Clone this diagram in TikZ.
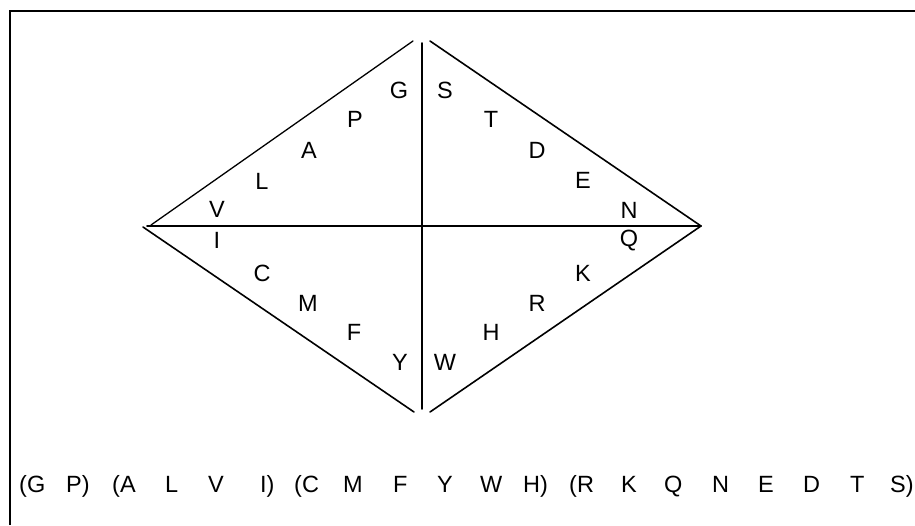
\documentclass[tikz,border=0pt]{standalone}
\usepackage{fontspec}
\setmainfont{Liberation Sans}
\begin{document}
\begin{tikzpicture}[x=1pt,y=-1pt,
  seg/.style={line width=1.6pt,line cap=round},
  lbl/.style={inner sep=0pt,font=\fontsize{23.5}{26}\selectfont},
  seq/.style={inner sep=0pt,anchor=base west,font=\fontsize{23.5}{26}\selectfont}]
\useasboundingbox (0,0) rectangle (915,525);
% frame
\draw[line width=2pt] (10,525) -- (10,11) -- (915,11);
% vertices
\coordinate (lt) at (151,225);
\coordinate (lb) at (143,227);
\coordinate (lh) at (147,226);
\coordinate (tl) at (413,41);
\coordinate (tr) at (430,41);
\coordinate (vt) at (422,43);
\coordinate (vb) at (422,409);
\coordinate (bl) at (414,412);
\coordinate (br) at (430,412);
\coordinate (rv) at (701,226);
\draw[seg,line width=1.3pt] (lt) -- (tl);
\draw[seg] (tr) -- (rv);
\draw[seg] (lh) -- (rv);
\draw[seg] (vt) -- (vb);
\draw[seg] (lb) -- (bl);
\draw[seg] (br) -- (rv);
% letters
\node[lbl] (G) at (399,90) {G};
\node[lbl] (S) at (445,90) {S};
\node[lbl] (P) at (355,119) {P};
\node[lbl] (A) at (309,150) {A};
\node[lbl] (L) at (262,181) {L};
\node[lbl] (V) at (217,209) {V};
\node[lbl] (I) at (217,240) {I};
\node[lbl] (T) at (491,119) {T};
\node[lbl] (D) at (537,150) {D};
\node[lbl] (E) at (583,180) {E};
\node[lbl] (N) at (629,210) {N};
\node[lbl] (Q) at (629,241) {Q};
\node[lbl] (C) at (262,273) {C};
\node[lbl] (M) at (308,303) {M};
\node[lbl] (F) at (354,332) {F};
\node[lbl] (Y) at (400,362) {Y};
\node[lbl] (W) at (445,362) {W};
\node[lbl] (H) at (491,332) {H};
\node[lbl] (R) at (537,303) {R};
\node[lbl] (K) at (583,273) {K};
% sequence
\node[seq] (s1) at (19,492) {(G};
\node[seq] (s2) at (66,492) {P)};
\node[seq] (s3) at (112,492) {(A};
\node[seq] (s4) at (165,492) {L};
\node[seq] (s5) at (208,492) {V};
\node[seq] (s6) at (260,492) {I)};
\node[seq] (s7) at (294,492) {(C};
\node[seq] (s8) at (343,492) {M};
\node[seq] (s9) at (393,492) {F};
\node[seq] (s10) at (437,492) {Y};
\node[seq] (s11) at (480,492) {W};
\node[seq] (s12) at (523,492) {H)};
\node[seq] (s13) at (569,492) {(R};
\node[seq] (s14) at (621,492) {K};
\node[seq] (s15) at (664,492) {Q};
\node[seq] (s16) at (712,492) {N};
\node[seq] (s17) at (758,492) {E};
\node[seq] (s18) at (803,492) {D};
\node[seq] (s19) at (850,492) {T};
\node[seq] (s20) at (890,492) {S)};
\end{tikzpicture}
\end{document}
